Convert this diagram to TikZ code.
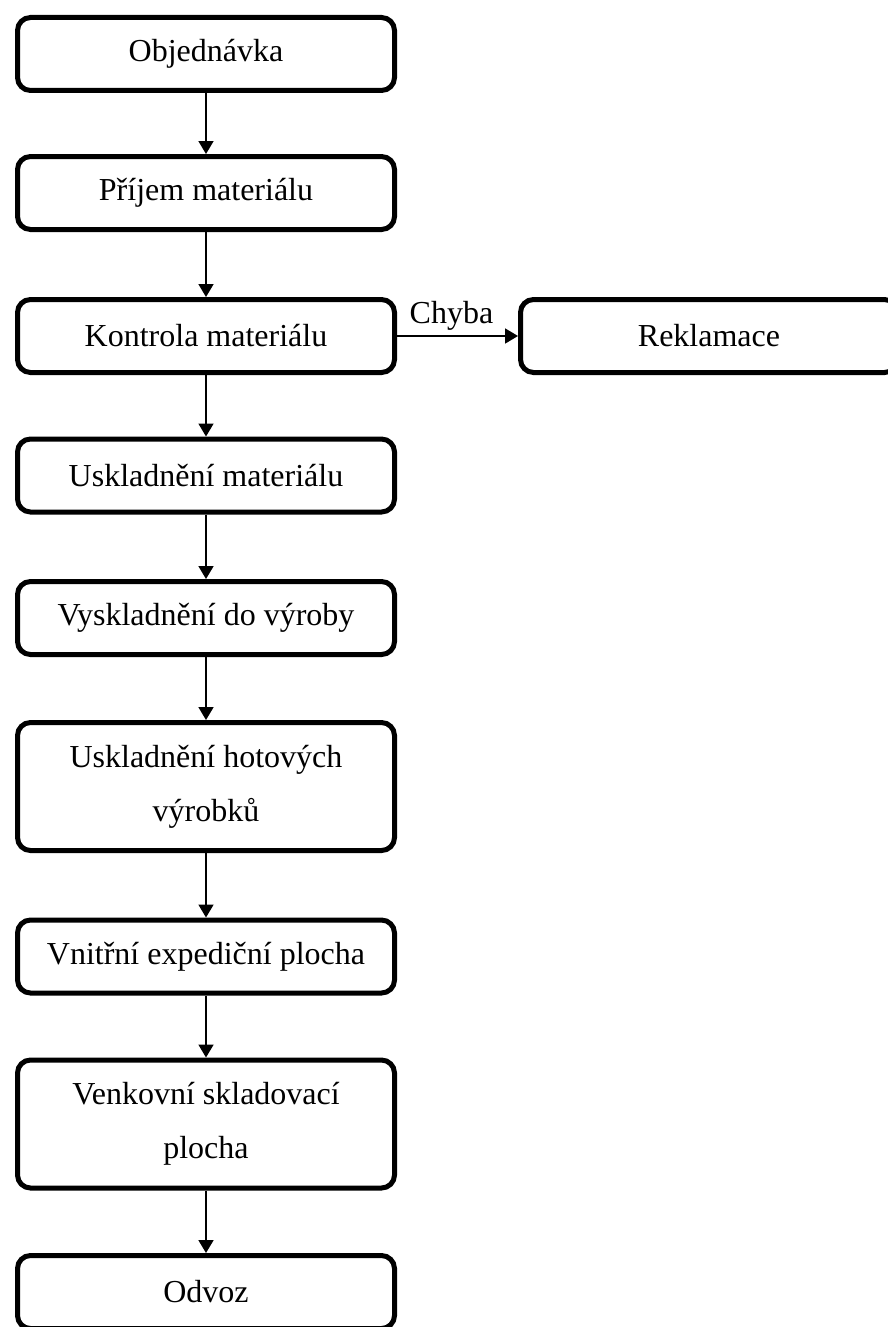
\documentclass[tikz,border=0pt]{standalone}
\usepackage{fontspec}
\setmainfont{Liberation Serif}
\usetikzlibrary{arrows.meta}

\tikzset{
  stepbox/.style={draw=black, line width=5pt, rounded corners=13pt, fill=white,
    minimum width=377pt, minimum height=73pt, inner sep=0pt, align=center,
    font=\fontsize{32}{54}\selectfont},
  tallbox/.style={stepbox, minimum height=128pt},
  flow/.style={draw=black, line width=1.8pt,
    -{Triangle[length=13pt, width=15pt]}},
  lbl/.style={font=\fontsize{32}{38}\selectfont, inner sep=2pt}
}

\begin{document}
\begin{tikzpicture}[x=1pt, y=-1pt]
  \useasboundingbox (0,0) rectangle (888,1327);
  \clip (0,0) rectangle (888,1327);
  \fill[white] (0,0) rectangle (888,1327);

  % main process column
  \node[stepbox] (obj) at (206,54)     {Objednávka};
  \node[stepbox] (pri) at (206,193)    {Příjem materiálu};
  \node[stepbox] (kon) at (206,336)    {Kontrola materiálu};
  \node[stepbox] (usk) at (206,475.5)  {Uskladnění materiálu};
  \node[stepbox] (vys) at (206,618)    {Vyskladnění do výroby};
  \node[tallbox] (hot) at (206,786.5)  {Uskladnění hotových\\výrobků};
  \node[stepbox] (vni) at (206,956.5)  {Vnitřní expediční plocha};
  \node[tallbox] (ven) at (206,1124)   {Venkovní skladovací\\plocha};
  \node[stepbox] (odv) at (206,1292)   {Odvoz};

  % side branch for faulty material
  \node[stepbox] (rek) at (709,336)    {Reklamace};

  % connectors
  \draw[flow] (obj.south) -- (pri.north);
  \draw[flow] (pri.south) -- (kon.north);
  \draw[flow] (kon.south) -- (usk.north);
  \draw[flow] (usk.south) -- (vys.north);
  \draw[flow] (vys.south) -- (hot.north);
  \draw[flow] (hot.south) -- (vni.north);
  \draw[flow] (vni.south) -- (ven.north);
  \draw[flow] (ven.south) -- (odv.north);
  \draw[flow] (kon.east) -- node[lbl, above=3pt, pos=0.45] {Chyba} (rek.west);
\end{tikzpicture}
\end{document}
